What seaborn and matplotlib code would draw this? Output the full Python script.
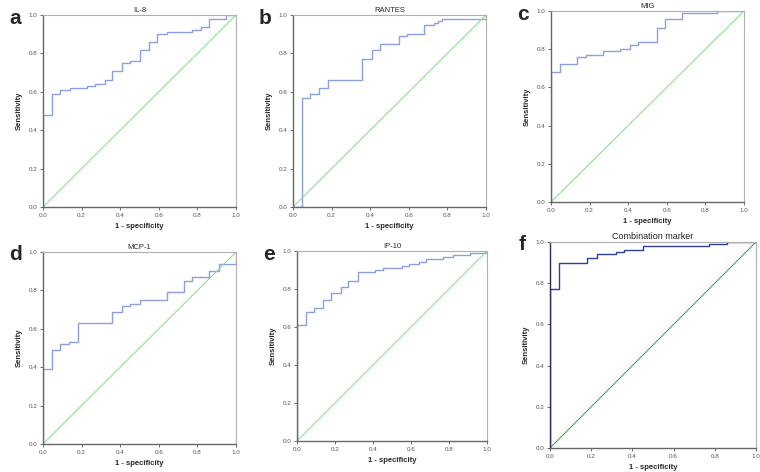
import numpy as np
import pandas as pd
import matplotlib
matplotlib.use("Agg")
import matplotlib.pyplot as plt
import seaborn as sns

# ROC curve breakpoints (steps-post: jump at x, then flat)
il8_fpr = [0.0, 0.0, 0.045, 0.09, 0.14, 0.23, 0.27, 0.32, 0.36, 0.41, 0.45, 0.50, 0.55, 0.59, 0.64, 0.77, 0.82, 0.86, 0.95, 1.0]
il8_tpr = [0.0, 0.48, 0.59, 0.61, 0.62, 0.63, 0.64, 0.66, 0.71, 0.75, 0.76, 0.82, 0.86, 0.90, 0.91, 0.92, 0.94, 0.98, 1.0, 1.0]

rantes_fpr = [0.0, 0.045, 0.045, 0.09, 0.136, 0.18, 0.36, 0.41, 0.45, 0.55, 0.59, 0.64, 0.68, 0.73, 0.75, 0.77, 1.0, 1.0]
rantes_tpr = [0.0, 0.01, 0.57, 0.59, 0.62, 0.66, 0.77, 0.82, 0.85, 0.89, 0.90, 0.90, 0.95, 0.96, 0.97, 0.98, 1.0, 1.0]

mig_fpr = [0.0, 0.0, 0.045, 0.136, 0.18, 0.27, 0.36, 0.41, 0.45, 0.55, 0.59, 0.68, 0.86, 1.0]
mig_tpr = [0.0, 0.68, 0.72, 0.76, 0.77, 0.79, 0.80, 0.82, 0.84, 0.91, 0.96, 0.99, 1.0, 1.0]

mcp1_fpr = [0.0, 0.0, 0.045, 0.09, 0.136, 0.18, 0.36, 0.41, 0.45, 0.50, 0.64, 0.73, 0.77, 0.86, 0.91, 1.0, 1.0]
mcp1_tpr = [0.0, 0.39, 0.49, 0.52, 0.53, 0.63, 0.69, 0.72, 0.73, 0.75, 0.79, 0.85, 0.87, 0.90, 0.94, 1.0, 1.0]

ip10_fpr = [0.0, 0.0, 0.045, 0.09, 0.136, 0.18, 0.23, 0.27, 0.32, 0.41, 0.45, 0.55, 0.59, 0.64, 0.68, 0.77, 0.82, 0.91, 1.0]
ip10_tpr = [0.0, 0.61, 0.68, 0.70, 0.74, 0.78, 0.81, 0.84, 0.89, 0.90, 0.91, 0.92, 0.93, 0.94, 0.96, 0.97, 0.98, 0.99, 1.0]

combo_fpr = [0.0, 0.0, 0.045, 0.18, 0.23, 0.32, 0.36, 0.45, 0.77, 0.86, 1.0]
combo_tpr = [0.0, 0.77, 0.90, 0.92, 0.94, 0.95, 0.96, 0.98, 0.99, 1.0, 1.0]

titles = ["IL-8", "RANTES", "MIG", "MCP-1", "IP-10", "Combination marker"]
letters = ["a", "b", "c", "d", "e", "f"]
ticks = [0.0, 0.2, 0.4, 0.6, 0.8, 1.0]
tick_labels = ["0.0", "0.2", "0.4", "0.6", "0.8", "1.0"]

curves = [(il8_fpr, il8_tpr), (rantes_fpr, rantes_tpr), (mig_fpr, mig_tpr),
          (mcp1_fpr, mcp1_tpr), (ip10_fpr, ip10_tpr), (combo_fpr, combo_tpr)]

sns.set_theme(style="white")
plt.rcParams['font.family'] = ['Liberation Sans', 'DejaVu Sans']

W, H = 760, 472
fig = plt.figure(figsize=(W / 100, H / 100), dpi=100)

# axes boxes in pixels: left, right, top, bottom
boxes = [(43, 236, 15, 207), (293, 486, 15, 207), (551, 744, 11, 202),
         (43, 236, 252, 444), (297, 487, 251, 441), (550, 756, 242, 448)]

for i, (fpr, tpr) in enumerate(curves):
    l, r, t, b = boxes[i]
    ax = fig.add_axes([l / W, 1 - b / H, (r - l) / W, (b - t) / H])
    last = i == 5
    roc_col = "#2f3f9e" if last else "#8e9fe0"
    diag_col = "#3cae48" if last else "#8fe08f"

    df = pd.DataFrame({"fpr": fpr, "tpr": tpr})
    sns.lineplot(data=df, x="fpr", y="tpr", ax=ax, sort=False, estimator=None,
                 color=roc_col, linewidth=1.0, drawstyle="steps-post")
    sns.lineplot(x=[0, 1], y=[0, 1], ax=ax, color=diag_col, linewidth=0.8,
                 estimator=None)

    ax.set_xlim(0, 1)
    ax.set_ylim(0, 1)
    ax.set_xticks(ticks)
    ax.set_yticks(ticks)
    ax.set_xticklabels(tick_labels)
    ax.set_yticklabels(tick_labels)
    ax.tick_params(axis="both", labelsize=4.5, colors="#555555", length=2.5,
                   width=0.6, pad=1.5, bottom=True, left=True)
    for side in ["top", "right"]:
        ax.spines[side].set_color("#b0b0b0")
        ax.spines[side].set_linewidth(0.8)
    for side in ["left", "bottom"]:
        ax.spines[side].set_color("#666666")
        ax.spines[side].set_linewidth(1.0)
    if last:
        ax.spines["left"].set_color("#2a2a55")

    ax.set_xlabel("1 - specificity", fontsize=5.5, fontweight="bold", labelpad=4)
    ax.set_ylabel("Sensitivity", fontsize=5.5, fontweight="bold", labelpad=4)
    ax.set_title(titles[i], fontsize=6.5 if last else 5.5, pad=2)

    fig.text((l - 28) / W, 1 - (t + 3) / H, letters[i], fontsize=15,
             fontweight="bold", ha="center", va="center")

fig.savefig("out.png", dpi=100)
